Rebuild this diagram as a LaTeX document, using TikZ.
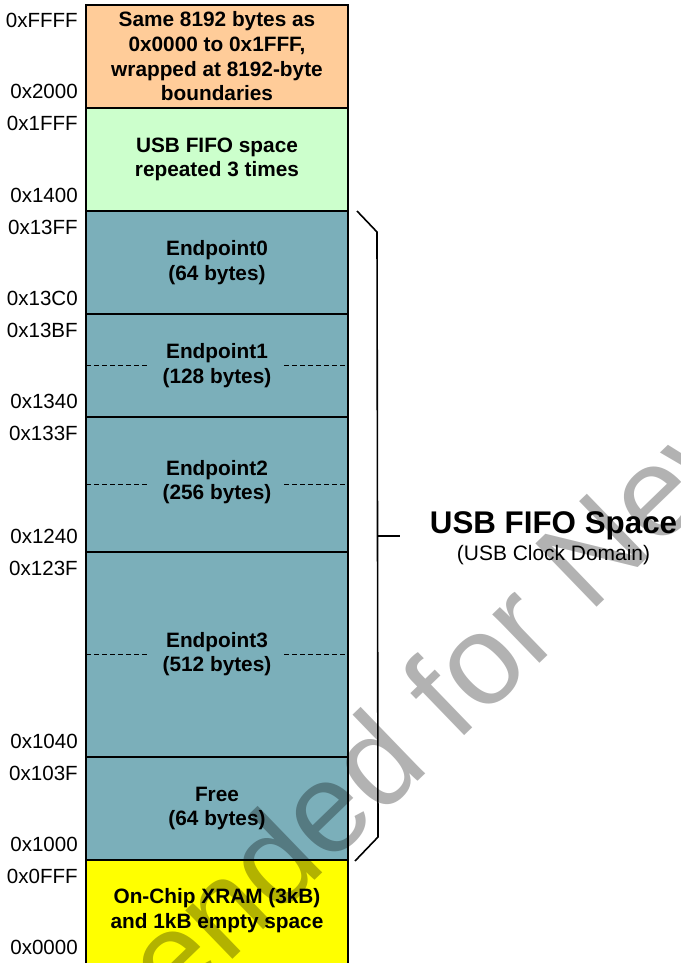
\documentclass[tikz,border=0pt]{standalone}
\usepackage{fontspec}
\setmainfont{Liberation Sans}

\definecolor{wrapcol}{HTML}{FFCC99}
\definecolor{mirrorcol}{HTML}{CCFFCC}
\definecolor{fifocol}{HTML}{7BAFBA}
\definecolor{xramcol}{HTML}{FFFF00}

\tikzset{
  blk/.style={draw=black, line width=1.1pt},
  blklabel/.style={font=\bfseries\fontsize{15.6}{18.5}\selectfont, align=center, inner sep=0pt},
  addr/.style={font=\fontsize{15.4}{18}\selectfont, inner sep=0pt, anchor=base east},
  halfline/.style={dash pattern=on 3.75pt off 2.25pt, line width=1.4pt},
  brace/.style={line width=1.2pt},
}

\begin{document}
\begin{tikzpicture}[x=0.75pt, y=-0.75pt]
	\useasboundingbox (0,0) rectangle (681,963);
	\begin{scope}
	\clip (0,0) rectangle (681,963);
	
	% Memory blocks
	\draw[blk, fill=wrapcol] (86,5) rectangle (348,108);
	\draw[blk, fill=mirrorcol] (86,108) rectangle (348,211);
	\foreach \ya/\yb in {211/314, 314/417, 417/552, 552/757, 757/860} {
		\draw[blk, fill=fifocol] (86,\ya) rectangle (348,\yb);
	}
	\draw[blk, fill=xramcol] (86,860) rectangle (348,975);
	
	% Half-way marks
	\foreach \ym in {365.5, 484.5, 654.5} {
		\draw[halfline] (86,\ym) -- (148,\ym);
		\draw[halfline] (284,\ym) -- (348,\ym);
	}
	
	% Block texts
	\node[blklabel] (wrap) at (217,56.5) {Same 8192 bytes as\\0x0000 to 0x1FFF,\\wrapped at 8192-byte\\boundaries};
	\node[blklabel] (mirror) at (217,159.5) {USB FIFO space\\repeated 3 times};
	\node[blklabel] (ep0) at (217,262.5) {Endpoint0\\(64 bytes)};
	\node[blklabel] (ep1) at (217,365.5) {Endpoint1\\(128 bytes)};
	\node[blklabel] (ep2) at (217,482) {Endpoint2\\(256 bytes)};
	\node[blklabel] (ep3) at (217,654) {Endpoint3\\(512 bytes)};
	\node[blklabel] (free) at (217,808.5) {Free\\(64 bytes)};
	\node[blklabel] (xram) at (217,910.5) {On-Chip XRAM (3kB)\\and 1kB empty space};
	
	% Addresses
	\foreach \ya/\yb/\hi/\lo [count=\i] in {5/108/0xFFFF/0x2000, 108/211/0x1FFF/0x1400,
		211/314/0x13FF/0x13C0, 314/417/0x13BF/0x1340, 417/552/0x133F/0x1240,
		552/757/0x123F/0x1040, 757/860/0x103F/0x1000, 860/963/0x0FFF/0x0000} {
		\node[addr] (hi\i) at (78,\ya+23) {\hi};
		\node[addr] (lo\i) at (78,\yb-9) {\lo};
	}
	
	% Brace
	\coordinate (bra) at (357,211);
	\coordinate (brb) at (377,232);
	\coordinate (brc) at (378,837);
	\coordinate (brd) at (355,861);
	\coordinate (brm) at (378,536);
	\coordinate (brt) at (400,536);
	\draw[brace] (bra) -- (brb) -- (brc) -- (brd);
	\draw[brace] (brm) -- (brt);
	
	\node[font=\bfseries\fontsize{23.5}{28}\selectfont, anchor=base, inner sep=0pt] (title) at (553.5,533) {USB FIFO Space};
	\node[font=\fontsize{15.7}{18}\selectfont, anchor=base, inner sep=0pt] (domain) at (553.5,560) {(USB Clock Domain)};
	
	% Watermark
	\begin{scope}[blend mode=multiply]
		\node[anchor=base west, rotate=44, inner sep=0pt, text=black!30,
			font=\fontsize{96}{100}\selectfont] (stamp) at (-362,1534) {Not Recommended for New Designs};
	\end{scope}
	\end{scope}
	
\end{tikzpicture}
\end{document}
